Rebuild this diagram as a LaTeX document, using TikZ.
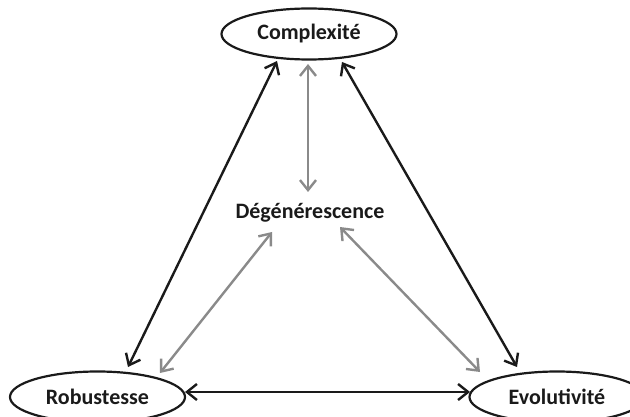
\documentclass[tikz,border=0pt]{standalone}
\usepackage{fontspec}
\setmainfont{Carlito}
\usetikzlibrary{arrows.meta,shapes.geometric,calc}
\definecolor{ink}{HTML}{1A1A1A}
\definecolor{soft}{HTML}{8A8A8A}
\begin{document}
\begin{tikzpicture}[x=1pt,y=-1pt,
  oval/.style={ellipse,draw=ink,line width=2.2pt,minimum width=175pt,minimum height=51pt,inner sep=0pt,font=\fontsize{22}{26}\selectfont\bfseries,text=ink},
  lbl/.style={font=\fontsize{22}{26}\selectfont\bfseries,text=ink,inner sep=0pt},
  tipb/.tip={Straight Barb[length=10pt,width=16pt,line width=2.4pt]},
  dark/.style={draw=ink,line width=2.4pt,tipb-tipb},
  light/.style={draw=soft,line width=2.4pt,tipb-tipb}]
\useasboundingbox (0,0) rectangle (630,417);
\node[oval] (c) at (309,34) {Complexité};
\node[oval] (r) at (97.5,397) {Robustesse};
\node[oval] (e) at (557,397) {Evolutivité};
\node[lbl] (d) at (310,213) {Dégénérescence};
\draw[dark] ($(c)+(-32,27)$) -- ($(r)+(30.5,-30)$);
\draw[dark] ($(c)+(33,28)$) -- ($(e)+(-40,-30)$);
\draw[dark] ($(r)+(87.5,-5)$) -- ($(e)+(-87,-5)$);
\draw[light] ($(c)+(-1,30)$) -- ($(d)+(-2,-21)$);
\draw[light] ($(d)+(-38,19)$) -- ($(r)+(62.5,-24)$);
\draw[light] ($(d)+(30,14)$) -- ($(e)+(-77,-25)$);
\end{tikzpicture}
\end{document}
